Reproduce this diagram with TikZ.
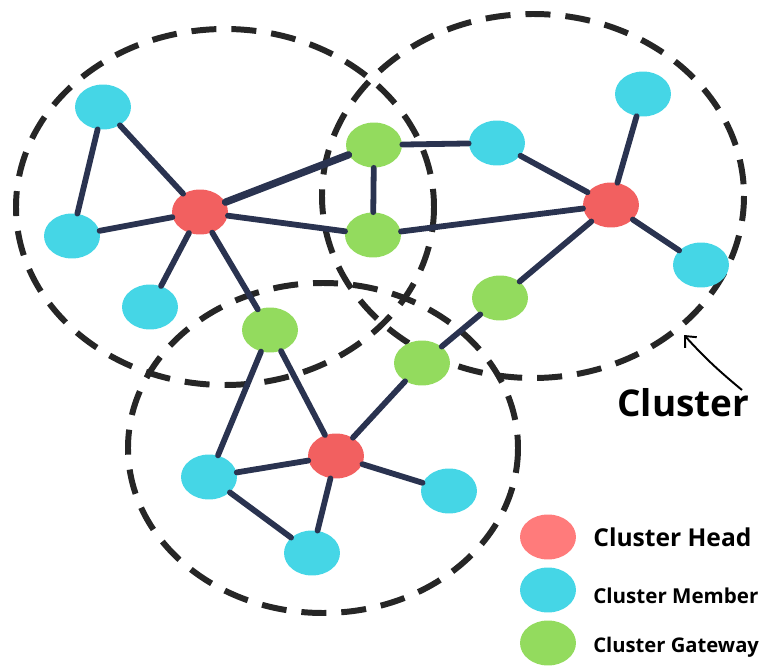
\documentclass[tikz,border=0pt]{standalone}
\usepackage{fontspec}
\setmainfont{Open Sans}
\usetikzlibrary{arrows.meta,shapes.geometric}
\definecolor{headc}{RGB}{242,96,96}
\definecolor{headl}{RGB}{255,123,123}
\definecolor{memc}{RGB}{69,214,230}
\definecolor{gwc}{RGB}{147,219,94}
\definecolor{edgec}{RGB}{42,51,80}
\tikzset{
  nd/.style={ellipse,minimum width=1.12cm,minimum height=0.9cm,inner sep=0pt},
  chn/.style={nd,fill=headc},
  mbn/.style={nd,fill=memc},
  gwn/.style={nd,fill=gwc},
  lk/.style={draw=edgec,line width=3.3pt,line cap=round},
  clus/.style={draw=black!85,line width=3.4pt,dash pattern=on 0.5cm off 0.3cm},
  lbl/.style={anchor=west,font=\bfseries,inner sep=0pt}
}
\begin{document}
\begin{tikzpicture}[x=0.02cm,y=-0.02cm]
\useasboundingbox (0,0) rectangle (765,669);
% clusters
\draw[clus] (225,207) ellipse [x radius=209, y radius=178];
\draw[clus] (533,196) ellipse [x radius=211, y radius=182];
\draw[clus] (323,448) ellipse [x radius=195, y radius=165];
% nodes
\node[chn] (ch1) at (200,212) {};
\node[chn] (ch2) at (611,205) {};
\node[chn] (ch3) at (336,456) {};
\node[mbn] (m1) at (103,107) {};
\node[mbn] (m2) at (72,236) {};
\node[mbn] (m3) at (150,307) {};
\node[mbn] (m4) at (497,143) {};
\node[mbn] (m5) at (643,94) {};
\node[mbn] (m6) at (701,265) {};
\node[mbn] (m7) at (209,477) {};
\node[mbn] (m8) at (449,491) {};
\node[mbn] (m9) at (312,553) {};
\node[gwn] (g1) at (374,145) {};
\node[gwn] (g2) at (373,235) {};
\node[gwn] (g3) at (270,330) {};
\node[gwn] (g4) at (500,298) {};
\node[gwn] (g5) at (422,363) {};
% links
\foreach \a/\b in {m1/ch1,m1/m2,m2/ch1,m3/ch1,ch1/g2,ch1/g3,g1/g2,g1/m4,m4/ch2,g2/ch2,ch2/m5,ch2/m6,ch2/g4,g4/g5,g5/ch3,g3/ch3,g3/m7,m7/ch3,ch3/m8,ch3/m9,m7/m9}
  \draw[lk] (\a) -- (\b);
\draw[lk,line width=4.2pt] (ch1) -- (g1);
% cluster label
\node[lbl,font=\bfseries\fontsize{21}{24}\selectfont] (cl) at (617,403) {Cluster};
\coordinate (ctip) at (684,335);
\draw[line width=1.1pt,-{Straight Barb[length=5pt,width=9pt]}] (742,390) to[bend left=4] (ctip);
% legend
\node[nd,fill=headl] (lh) at (548,537) {};
\node[mbn] (lm) at (548,590) {};
\node[gwn] (lg) at (548,643) {};
\node[lbl,font=\bfseries\fontsize{14}{16}\selectfont] (th) at (593,537) {Cluster Head};
\node[lbl,font=\bfseries\fontsize{11.7}{13}\selectfont] (tm) at (593,596) {Cluster Member};
\node[lbl,font=\bfseries\fontsize{11.5}{13}\selectfont] (tg) at (593,647) {Cluster Gateway};
\end{tikzpicture}
\end{document}
